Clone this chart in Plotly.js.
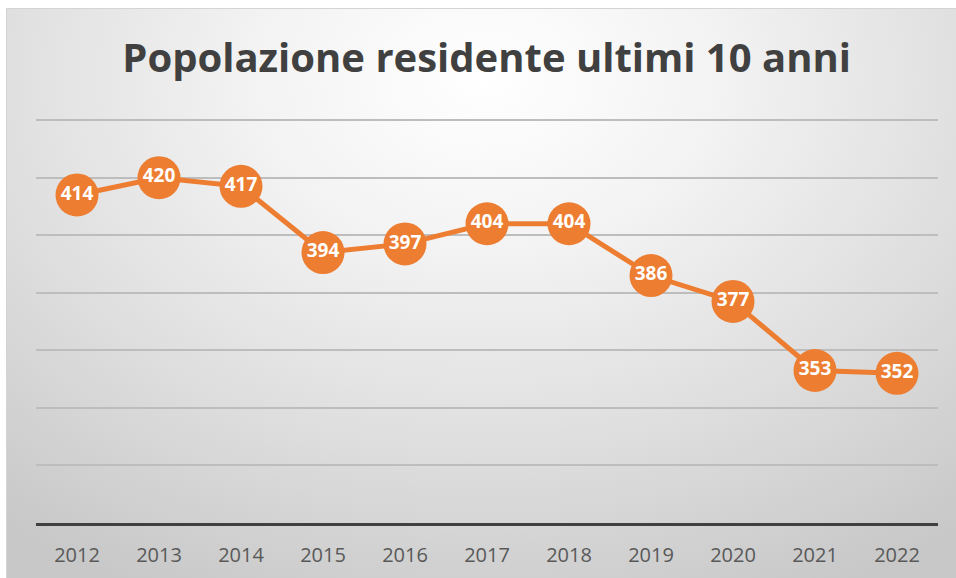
<!DOCTYPE html>
<html>
<head>
<meta charset="utf-8">
<script src="https://cdn.plot.ly/plotly-3.0.1.min.js"></script>
<style>
  html, body { margin: 0; padding: 0; background: #ffffff; width: 956px; height: 578px; overflow: hidden; }
  #bg { position: absolute; left: 6px; top: 8px; width: 956px; height: 570px;
        border-top: 1px solid #d4d4d4; border-left: 1px solid #d4d4d4;
        background: radial-gradient(ellipse 80% 100% at 50% 12%, #ffffff 0%, #f3f3f3 30%, #e0e0e0 62%, #c8c8c8 100%); }
  #chart { position: absolute; left: 0; top: 0; width: 956px; height: 578px; }
</style>
</head>
<body>
<div id="bg"></div>
<div id="chart"></div>
<script>
const years = ['2012','2013','2014','2015','2016','2017','2018','2019','2020','2021','2022'];
const residents = [414, 420, 417, 394, 397, 404, 404, 386, 377, 353, 352];
const chartTitle = 'Popolazione residente ultimi 10 anni';

const orange = '#ED7D31';

const trace = {
  type: 'scatter',
  mode: 'lines+markers+text',
  x: years,
  y: residents,
  text: residents.map(String),
  textposition: 'middle center',
  textfont: { family: 'Open Sans, sans-serif', size: 19, color: '#ffffff', weight: 700 },
  line: { color: orange, width: 5 },
  marker: { color: orange, size: 43, line: { width: 0 } },
  hoverinfo: 'x+y',
  cliponaxis: false
};

const layout = {
  width: 956,
  height: 578,
  margin: { l: 36, r: 18, t: 119, b: 55, pad: 0 },
  paper_bgcolor: 'rgba(0,0,0,0)',
  plot_bgcolor: 'rgba(0,0,0,0)',
  showlegend: false,
  title: {
    text: '<b>' + chartTitle + '</b>',
    font: { family: 'Open Sans, sans-serif', size: 40, color: '#404040' },
    x: 0.509, xanchor: 'center',
    y: 0.9, yanchor: 'middle'
  },
  xaxis: {
    type: 'category',
    range: [-0.5, 10.5],
    showgrid: false,
    zeroline: false,
    showline: true,
    linecolor: '#404040',
    linewidth: 3,
    ticks: '',
    ticklabelstandoff: 12,
    tickfont: { family: 'Open Sans, sans-serif', size: 20, color: '#595959' },
    fixedrange: true
  },
  yaxis: {
    range: [300, 440.4],
    dtick: 20,
    tick0: 300,
    showgrid: true,
    gridcolor: '#bdbdbd',
    gridwidth: 2,
    zeroline: false,
    showline: false,
    showticklabels: false,
    ticks: '',
    fixedrange: true
  }
};

Plotly.newPlot('chart', [trace], layout, { displayModeBar: false, staticPlot: true });
</script>
</body>
</html>
